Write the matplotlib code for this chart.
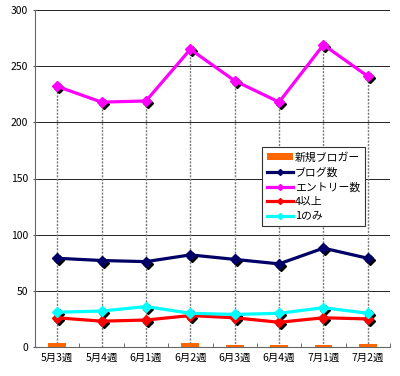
import numpy as np
import matplotlib.pyplot as plt
import matplotlib.transforms as mtransforms

plt.rcParams['font.family'] = ['Noto Sans CJK JP', 'DejaVu Sans']

# データ
weeks = ['5月3週', '5月4週', '6月1週', '6月2週', '6月3週', '6月4週', '7月1週', '7月2週']
new_bloggers = [4, 0, 0, 4, 2, 2, 2, 3]
blogs = [79, 77, 76, 82, 78, 74, 88, 79]
entries = [232, 218, 219, 265, 237, 218, 269, 241]
four_plus = [26, 23, 24, 28, 26, 22, 26, 25]
only_one = [31, 32, 36, 30, 29, 30, 35, 30]

x = np.arange(len(weeks))

fig = plt.figure(figsize=(4, 3.76), dpi=100)
ax = fig.add_axes([35/400, 29/376, 355/400, 337/376])

# 横グリッド
for v in range(50, 301, 50):
    ax.axhline(v, color='#222222', lw=0.7, zorder=0)

# 垂直線（最大系列から0まで）
top = np.max([blogs, entries, four_plus, only_one], axis=0)
ax.vlines(x, 0, top, colors='#777777', linestyles=(0, (1.5, 1)), lw=1, zorder=1)

bars = ax.bar(x, new_bloggers, width=0.4, color='#FF6600', label='新規ブロガー', zorder=2)

shadow = mtransforms.offset_copy(ax.transData, fig=fig, x=2, y=-2, units='dots')
series = [(blogs, '#000066', 'ブログ数'),
          (entries, '#FF00FF', 'エントリー数'),
          (four_plus, '#FF0000', '4以上'),
          (only_one, '#00FFFF', '1のみ')]
handles = [bars]
for vals, col, lab in series:
    ax.plot(x, vals, ls='none', marker='D', ms=5.5, color='black', transform=shadow, zorder=3)
    ln, = ax.plot(x, vals, color=col, lw=2.3, marker='D', ms=5.5, label=lab, zorder=4)
    handles.append(ln)

ax.set_xlim(-0.5, len(weeks) - 0.5)
ax.set_ylim(0, 300)
ax.set_yticks(range(0, 301, 50))
ax.set_xticks(x)
ax.set_xticklabels(weeks)
ax.set_xticks(np.arange(0.5, len(weeks), 1), minor=True)
ax.tick_params(axis='x', which='major', length=0, labelsize=7.5, pad=4)
ax.tick_params(axis='x', which='minor', length=3, direction='in', color='#555555')
ax.tick_params(axis='y', length=3, direction='inout', labelsize=7.5, color='#555555')
ax.spines['top'].set_visible(False)
ax.spines['right'].set_visible(False)
ax.spines['left'].set_color('#666666')
ax.spines['bottom'].set_color('#666666')

leg = ax.legend(handles=handles, loc='upper left', bbox_to_anchor=(0.625, 0.61), fontsize=7.8,
                frameon=True, fancybox=False, edgecolor='#333333', framealpha=1,
                handlelength=2.4, handleheight=0.6, handletextpad=0.15, borderpad=0.45,
                labelspacing=0.42, markerscale=0.55)
leg.get_frame().set_linewidth(0.8)

fig.savefig('out.png', dpi=100)
